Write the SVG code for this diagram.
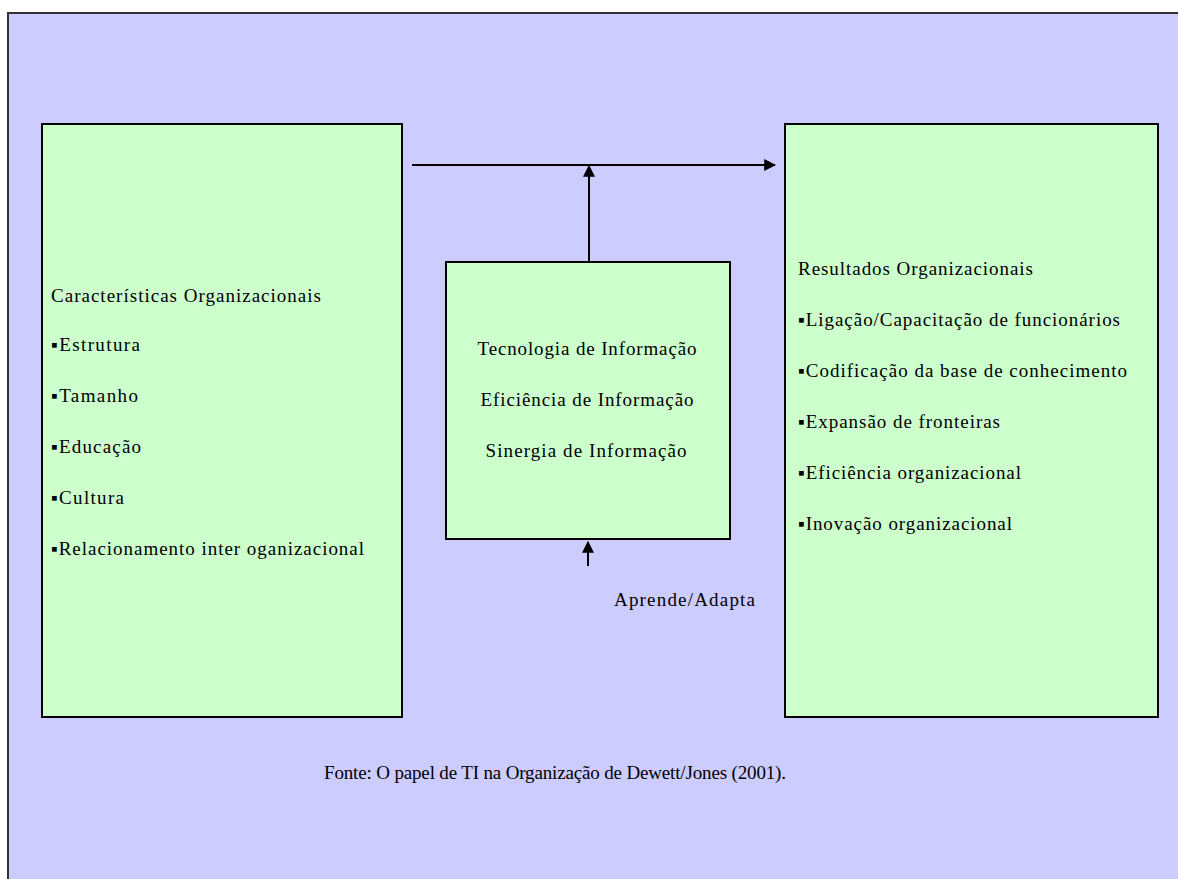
<svg xmlns="http://www.w3.org/2000/svg" width="1178" height="879" viewBox="0 0 1178 879">
  <style>
    .box { fill: #CCFFCC; stroke: #000; stroke-width: 2; }
    .t { font-family: "Liberation Serif", "Times New Roman", serif; font-size: 19px; fill: #000; }
    .c { text-anchor: middle; }
    .line { stroke: #000; stroke-width: 2; fill: none; }
  </style>
  <defs>
    <marker id="arrow" viewBox="0 0 10 10" refX="9" refY="5" markerWidth="6" markerHeight="6" markerUnits="strokeWidth" orient="auto">
      <path d="M0,0 L10,5 L0,10 z" fill="#000"/>
    </marker>
  </defs>

  <!-- canvas -->
  <rect x="0" y="0" width="1178" height="879" fill="#fff"/>
  <rect x="8" y="13" width="1180" height="880" fill="#CCCCFF" stroke="#333" stroke-width="2"/>

  <!-- connectors -->
  <g id="connectors">
    <line class="line" x1="412" y1="165" x2="775" y2="165" marker-end="url(#arrow)"/>
    <line class="line" x1="589" y1="262" x2="589" y2="166" marker-end="url(#arrow)"/>
    <line class="line" x1="588" y1="566" x2="588" y2="542" marker-end="url(#arrow)"/>
  </g>

  <!-- organisational characteristics -->
  <g id="caracteristicas">
    <rect class="box" x="42" y="124" width="360" height="593"/>
    <text class="t" x="51" y="302" textLength="270" lengthAdjust="spacing">Características Organizacionais</text>
    <text class="t" x="51" y="351" textLength="89" lengthAdjust="spacing">▪Estrutura</text>
    <text class="t" x="51" y="402" textLength="87" lengthAdjust="spacing">▪Tamanho</text>
    <text class="t" x="51" y="453" textLength="90" lengthAdjust="spacing">▪Educação</text>
    <text class="t" x="51" y="504" textLength="73" lengthAdjust="spacing">▪Cultura</text>
    <text class="t" x="51" y="555" textLength="313" lengthAdjust="spacing">▪Relacionamento inter oganizacional</text>
  </g>

  <!-- information technology -->
  <g id="tecnologia">
    <rect class="box" x="446" y="262" width="284" height="277"/>
    <text class="t c" x="587" y="355" textLength="219" lengthAdjust="spacing">Tecnologia de Informação</text>
    <text class="t c" x="587" y="406" textLength="213" lengthAdjust="spacing">Eficiência de Informação</text>
    <text class="t c" x="586" y="457" textLength="201" lengthAdjust="spacing">Sinergia de Informação</text>
  </g>

  <!-- organisational results -->
  <g id="resultados">
    <rect class="box" x="785" y="124" width="373" height="593"/>
    <text class="t" x="798" y="275" textLength="235" lengthAdjust="spacing">Resultados Organizacionais</text>
    <text class="t" x="798" y="326" textLength="322" lengthAdjust="spacing">▪Ligação/Capacitação de funcionários</text>
    <text class="t" x="798" y="377" textLength="329" lengthAdjust="spacing">▪Codificação da base de conhecimento</text>
    <text class="t" x="798" y="428" textLength="202" lengthAdjust="spacing">▪Expansão de fronteiras</text>
    <text class="t" x="798" y="479" textLength="223" lengthAdjust="spacing">▪Eficiência organizacional</text>
    <text class="t" x="798" y="530" textLength="214" lengthAdjust="spacing">▪Inovação organizacional</text>
  </g>

  <g id="aprende">
    <text class="t" x="614" y="606" textLength="141" lengthAdjust="spacing">Aprende/Adapta</text>
  </g>

  <g id="fonte">
    <text class="t" x="324" y="779" textLength="462" lengthAdjust="spacing">Fonte: O papel de TI na Organização de Dewett/Jones (2001).</text>
  </g>
</svg>
